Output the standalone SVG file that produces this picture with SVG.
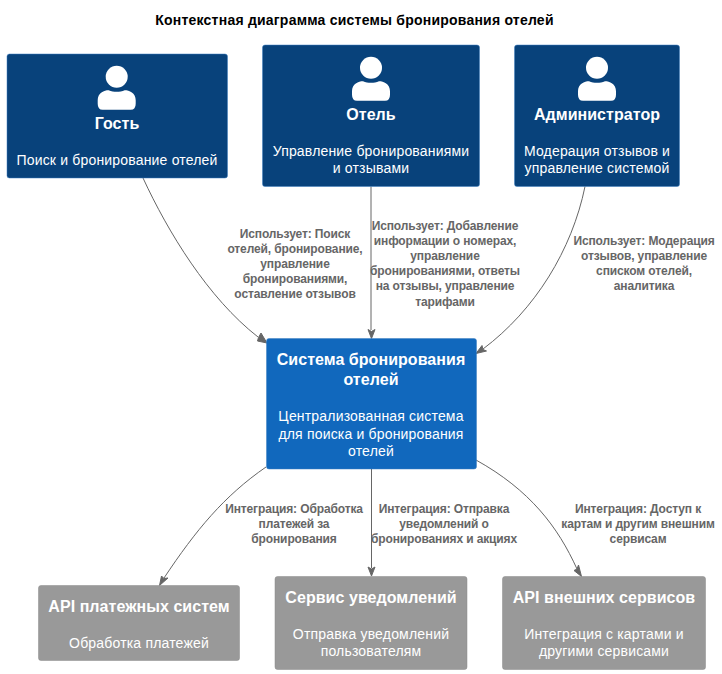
<svg xmlns="http://www.w3.org/2000/svg" width="722" height="674" viewBox="0 0 722 674">
<style>
text{font-family:"Liberation Sans",Arial,sans-serif;text-anchor:middle}
.box{stroke-width:.5}
.person{fill:#08427B;stroke:#3C7FC0}
.sys{fill:#1168BD;stroke:#3C7FC0}
.ext{fill:#999999;stroke:#8A8A8A}
.t{font-size:16px;font-weight:bold;fill:#fff;letter-spacing:.05px}
.d{font-size:14px;fill:#fff;letter-spacing:.18px}
.l{font-size:12px;font-weight:bold;fill:#666;letter-spacing:-.12px}
.title{font-size:14px;font-weight:bold;fill:#000;letter-spacing:.22px}
.c{fill:none;stroke:#666;stroke-width:1}
.h{fill:#666;stroke:#666;stroke-width:1}
</style>
<defs>
<g id="icon" fill="#fff"><circle cx="0" cy="0" r="11"/><path d="M-19 27V23.500C-19 16 -12.500 13.500 -8 13.500C-3 15.500 3 15.500 8 13.500C12.500 13.500 19 16 19 23.500V27Q19 33 14 33H-14Q-19 33 -19 27Z"/></g>
</defs>
<text class="title" x="354.500" y="25">Контекстная диаграмма системы бронирования отелей</text>
<g id="connectors">
<path class="c" d="M143 178C168 232 208 298 258 337"/><path class="h" d="M267 343L257.500 341L258.500 337.500L261 333Z"/>
<text class="l" x="295" y="238">Использует: Поиск</text><text class="l" x="295" y="253">отелей, бронирование,</text><text class="l" x="295" y="268">управление</text><text class="l" x="295" y="283">бронированиями,</text><text class="l" x="295" y="298">оставление отзывов</text>
<path class="c" d="M371 186.500V330"/><path class="h" d="M371.500 338.500L368 329.500L371.500 331.500L375 329.500Z"/>
<text class="l" x="445" y="230">Использует: Добавление</text><text class="l" x="445" y="245">информации о номерах,</text><text class="l" x="445" y="260">управление</text><text class="l" x="445" y="275">бронированиями, ответы</text><text class="l" x="445" y="290">на отзывы, управление</text><text class="l" x="445" y="306">тарифами</text>
<path class="c" d="M585 186.500C572 250 535 310 483 349"/><path class="h" d="M476 353.500L482 345.500L483 349.500L486.500 351Z"/>
<text class="l" x="644" y="245">Использует: Модерация</text><text class="l" x="644" y="260">отзывов, управление</text><text class="l" x="644" y="275">списком отелей,</text><text class="l" x="644" y="290">аналитика</text>
<path class="c" d="M266 467C224 496 196 530 164 578"/><path class="h" d="M159.500 585.500L161.500 576L164 578.500L168 578Z"/>
<text class="l" x="294" y="513">Интеграция: Обработка</text><text class="l" x="294" y="528">платежей за</text><text class="l" x="294" y="543">бронирования</text>
<path class="c" d="M371.500 469V568"/><path class="h" d="M371.500 576L368 567L371.500 569L375 567Z"/>
<text class="l" x="444" y="513">Интеграция: Отправка</text><text class="l" x="444" y="528">уведомлений о</text><text class="l" x="444" y="543">бронированиях и акциях</text>
<path class="c" d="M476 460C530 490 558 527 577 569"/><path class="h" d="M581.500 576.500L574 570.500L577 569L578.500 565Z"/>
<text class="l" x="638" y="513">Интеграция: Доступ к</text><text class="l" x="638" y="528">картам и другим внешним</text><text class="l" x="638" y="543">сервисам</text>
</g>
<g id="guest"><rect class="box person" x="7" y="54" width="220.500" height="124" rx="2.500"/><use href="#icon" x="116.700" y="76.700"/><text class="t" x="117" y="129">Гость</text><text class="d" x="117" y="165">Поиск и бронирование отелей</text></g>
<g id="hotel"><rect class="box person" x="262.500" y="45" width="217" height="141.500" rx="2.500"/><use href="#icon" x="371" y="67.700"/><text class="t" x="371" y="120">Отель</text><text class="d" x="371" y="156">Управление бронированиями</text><text class="d" x="371" y="173">и отзывами</text></g>
<g id="admin"><rect class="box person" x="514.500" y="45" width="165" height="141.500" rx="2.500"/><use href="#icon" x="597" y="67.700"/><text class="t" x="597" y="120">Администратор</text><text class="d" x="597" y="156">Модерация отзывов и</text><text class="d" x="597" y="173">управление системой</text></g>
<g id="system"><rect class="box sys" x="266.500" y="338.500" width="210" height="130.500" rx="2.500"/><text class="t" x="371" y="365">Система бронирования</text><text class="t" x="371" y="385">отелей</text><text class="d" x="371" y="421">Централизованная система</text><text class="d" x="371" y="439">для поиска и бронирования</text><text class="d" x="371" y="456">отелей</text></g>
<g id="payments"><rect class="box ext" x="38.500" y="585.500" width="201" height="75" rx="2.500"/><text class="t" x="139" y="612">API платежных систем</text><text class="d" x="139" y="648">Обработка платежей</text></g>
<g id="notifications"><rect class="box ext" x="275" y="576.500" width="192" height="93" rx="2.500"/><text class="t" x="371" y="603">Сервис уведомлений</text><text class="d" x="371" y="639">Отправка уведомлений</text><text class="d" x="371" y="656">пользователям</text></g>
<g id="external"><rect class="box ext" x="502.500" y="576.500" width="203" height="93" rx="2.500"/><text class="t" x="604" y="603">API внешних сервисов</text><text class="d" x="604" y="639">Интеграция с картами и</text><text class="d" x="604" y="656">другими сервисами</text></g>
</svg>
